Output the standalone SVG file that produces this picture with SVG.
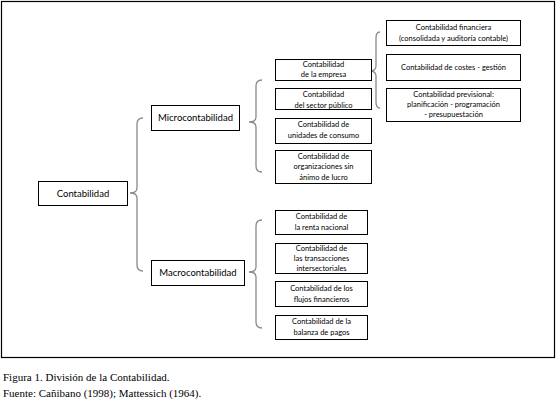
<svg xmlns="http://www.w3.org/2000/svg" width="559" height="401" viewBox="0 0 559 401">
<style>
.box{fill:#fff;stroke:#000;stroke-width:1}
.br{fill:none;stroke:#8a8a8a;stroke-width:1.3}
.t{font-family:Lato,"Open Sans",sans-serif;font-size:7.5px;fill:#000;text-anchor:middle}
.m{font-family:Lato,"Open Sans",sans-serif;font-size:9.5px;fill:#000;text-anchor:middle}
.c{font-family:"Liberation Serif",serif;font-size:11px;fill:#000}
</style>
<rect x="0" y="0" width="559" height="401" fill="#fff"/>
<rect x="1.5" y="1.5" width="553" height="356" fill="none" stroke="#000" stroke-width="1.2"/>
<g id="connectors">
<path class="br" d="M143,118 Q137,118 137,124 L137,188 Q137,193 130,193 Q137,193 137,198 L137,265 Q137,271 143,271"/>
<path class="br" d="M262,80 Q256,80 256,86 L256,117 Q256,122 249,122 Q256,122 256,127 L256,166 Q256,172 262,172"/>
<path class="br" d="M262,220 Q256,220 256,226 L256,267 Q256,272 249,272 Q256,272 256,277 L256,322 Q256,328 262,328"/>
<path class="br" d="M380,32 Q376,32 376,38 L376,66 Q376,71 370,71 Q376,71 376,76 L376,102 Q376,108 380,108"/>
</g>
<g id="contabilidad"><rect class="box" x="38.5" y="181.5" width="89" height="24"/><text class="m" x="83" y="196.5">Contabilidad</text></g>
<g id="micro"><rect class="box" x="151.5" y="105.5" width="88" height="25"/><text class="m" x="195.5" y="121">Microcontabilidad</text></g>
<g id="macro"><rect class="box" x="151.5" y="260.5" width="93" height="25"/><text class="m" x="198" y="276">Macrocontabilidad</text></g>
<g id="empresa"><rect class="box" x="275.5" y="59.5" width="96" height="21"/><text class="t" x="323.5" y="67"><tspan x="323.5">Contabilidad</tspan><tspan x="323.5" y="77">de la empresa</tspan></text></g>
<g id="sector-publico"><rect class="box" x="275.5" y="88.5" width="96" height="21"/><text class="t" x="323.5" y="96.5"><tspan x="323.5">Contabilidad</tspan><tspan x="323.5" y="107.5">del sector público</tspan></text></g>
<g id="consumo"><rect class="box" x="275.5" y="118.5" width="96" height="25"/><text class="t" x="323.5" y="127"><tspan x="323.5">Contabilidad de</tspan><tspan x="323.5" y="138">unidades de consumo</tspan></text></g>
<g id="sin-lucro"><rect class="box" x="275.5" y="150.5" width="96" height="33"/><text class="t" x="323.5" y="159"><tspan x="323.5">Contabilidad de</tspan><tspan x="323.5" y="169.3">organizaciones sin</tspan><tspan x="323.5" y="179.6">ánimo de lucro</tspan></text></g>
<g id="renta"><rect class="box" x="275.5" y="210.5" width="92" height="24"/><text class="t" x="321.5" y="218.6"><tspan x="321.5">Contabilidad de</tspan><tspan x="321.5" y="229.6">la renta nacional</tspan></text></g>
<g id="transacciones"><rect class="box" x="275.5" y="243.5" width="92" height="30"/><text class="t" x="321.5" y="251"><tspan x="321.5">Contabilidad de</tspan><tspan x="321.5" y="261">las transacciones</tspan><tspan x="321.5" y="271">intersectoriales</tspan></text></g>
<g id="flujos"><rect class="box" x="275.5" y="281.5" width="92" height="25"/><text class="t" x="321.5" y="291"><tspan x="321.5">Contabilidad de los</tspan><tspan x="321.5" y="302">flujos financieros</tspan></text></g>
<g id="balanza"><rect class="box" x="275.5" y="315.5" width="92" height="24"/><text class="t" x="321.5" y="324.3"><tspan x="321.5">Contabilidad de la</tspan><tspan x="321.5" y="335.3">balanza de pagos</tspan></text></g>
<g id="financiera"><rect class="box" x="386.5" y="20.5" width="134" height="25"/><text class="t" x="453.5" y="29.6"><tspan x="453.5">Contabilidad financiera</tspan><tspan x="453.5" y="40.6">(consolidada y auditoría contable)</tspan></text></g>
<g id="costes"><rect class="box" x="386.5" y="54.5" width="134" height="26"/><text class="t" x="453.5" y="70">Contabilidad de costes - gestión</text></g>
<g id="previsional"><rect class="box" x="386.5" y="88.5" width="134" height="33"/><text class="t" x="453.5" y="97"><tspan x="453.5">Contabilidad previsional:</tspan><tspan x="453.5" y="107">planificación - programación</tspan><tspan x="453.5" y="117">- presupuestación</tspan></text></g>
<text class="c" x="3" y="381">Figura 1. División de la Contabilidad.</text>
<text class="c" x="3" y="397">Fuente: Cañibano (1998); Mattessich (1964).</text>
</svg>
